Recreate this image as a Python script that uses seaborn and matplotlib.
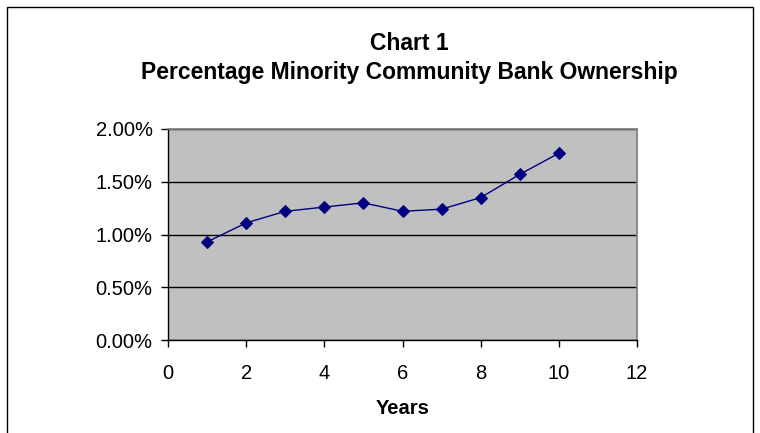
import pandas as pd
import seaborn as sns
import matplotlib.pyplot as plt
from matplotlib.patches import Rectangle
from matplotlib.ticker import PercentFormatter

# --- Data ---
years = [1, 2, 3, 4, 5, 6, 7, 8, 9, 10]
ownership_pct = [0.93, 1.11, 1.22, 1.26, 1.30, 1.22, 1.24, 1.35, 1.57, 1.77]
x_ticks = [0, 2, 4, 6, 8, 10, 12]
y_ticks = [0.0, 0.5, 1.0, 1.5, 2.0]

df = pd.DataFrame({"Years": years, "Ownership": ownership_pct})

sns.set_theme(style="white")
plt.rcParams["font.family"] = ["Liberation Sans", "DejaVu Sans"]
plt.rcParams["text.color"] = "black"
plt.rcParams["axes.labelcolor"] = "black"

W, H = 760, 433
fig = plt.figure(figsize=(W / 100, H / 100), dpi=100)
ax = fig.add_axes([168 / W, 1 - 340 / H, (637 - 168) / W, (340 - 129) / H])

# outer chart border
fig.patches.append(Rectangle((7 / W, -0.01), 746 / W, 1 - 7 / H + 0.01,
                             transform=fig.transFigure, fill=False,
                             edgecolor="black", linewidth=1.0))

ax.set_facecolor("#C0C0C0")
sns.lineplot(data=df, x="Years", y="Ownership", ax=ax, color="#000080",
             linewidth=1.0, marker="D", markersize=6,
             markeredgecolor="#000080", markerfacecolor="#000080")

ax.set_xlim(0, 12)
ax.set_ylim(0, 2.0)
ax.set_xticks(x_ticks)
ax.set_yticks(y_ticks)
ax.yaxis.set_major_formatter(PercentFormatter(decimals=2))
ax.grid(axis="y", color="black", linewidth=1.0)
ax.grid(axis="x", visible=False)
ax.set_axisbelow(True)

for side in ["top", "right"]:
    ax.spines[side].set_color("#808080")
for side in ["left", "bottom"]:
    ax.spines[side].set_color("black")
    ax.spines[side].set_linewidth(1.0)

ax.tick_params(axis="both", which="major", direction="out", length=5,
               width=1, color="black", labelsize=14.5, labelcolor="black",
               left=True, bottom=True)
ax.tick_params(axis="x", pad=12)
ax.tick_params(axis="y", pad=6)

ax.set_xlabel("Years", fontsize=14.5, fontweight="bold", labelpad=11.5,
              color="black")
ax.set_ylabel("")

title_x = 409.5 / W
fig.text(title_x, 1 - 50 / H, "Chart 1",
         ha="center", va="baseline", fontsize=16.5, fontweight="bold",
         color="black")
fig.text(title_x, 1 - 79 / H,
         "Percentage Minority Community Bank Ownership",
         ha="center", va="baseline", fontsize=16.5, fontweight="bold",
         color="black")

fig.savefig("out.png", dpi=100)
